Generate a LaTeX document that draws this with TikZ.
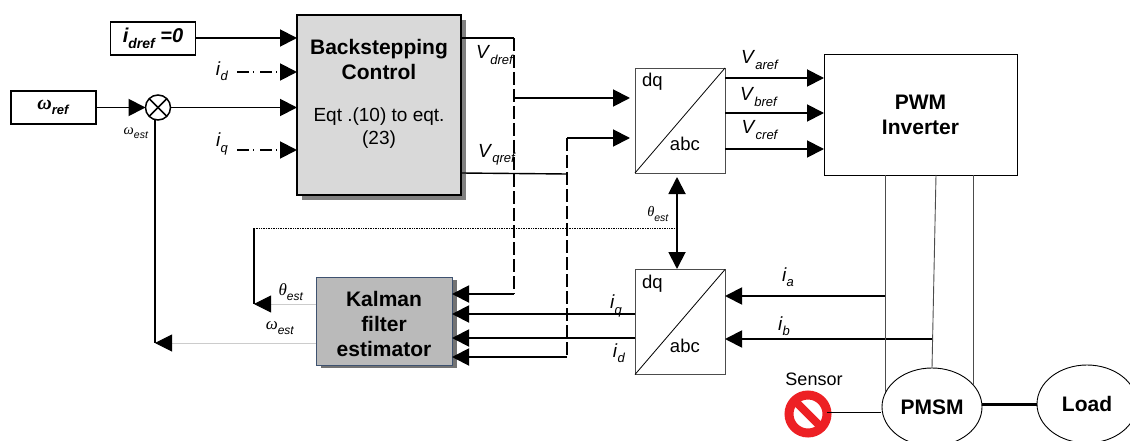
\documentclass[tikz,border=0pt]{standalone}
\usepackage{fontspec}
\setmainfont{Liberation Sans}
\newfontfamily\grkfont{Liberation Serif}
\usetikzlibrary{arrows.meta, shadows}
\usetikzlibrary{shapes.geometric}
\newcommand{\subt}[2][13]{\raisebox{-0.28em}{\fontsize{#1}{#1}\selectfont\textit{#2}}}
\newcommand{\sigl}[2]{\fontsize{19}{19}\selectfont\textit{#1}\subt{#2}}
\newcommand{\grkl}[2]{\fontsize{17}{17}\selectfont{\grkfont\textit{#1}}\subt[12]{#2}}
\newcommand{\grks}[2]{\fontsize{14.5}{14.5}\selectfont{\grkfont\textit{#1}}\subt[10.5]{#2}}
\definecolor{stopred}{RGB}{237,32,36}
\definecolor{slate}{RGB}{62,82,112}
\tikzstyle{refbox} = [rectangle, minimum width=85pt, minimum height=33pt, inner sep=0pt, outer sep=0pt, text centered, draw=black, line width=1.3pt, fill=white]
\tikzstyle{control} = [rectangle, minimum width=164pt, minimum height=180pt, inner sep=0pt, outer sep=0pt, align=center, draw=black, line width=1.6pt, fill=black!15, copy shadow={shadow xshift=5pt, shadow yshift=-5pt, fill=black!50, draw=none}]
\tikzstyle{kalman} = [rectangle, minimum width=136pt, minimum height=88pt, inner sep=0pt, outer sep=0pt, align=center, draw=slate, line width=1pt, fill=black!27, copy shadow={shadow xshift=5pt, shadow yshift=-3pt, fill=black!55, draw=none}]
\tikzstyle{transform} = [rectangle, minimum width=90pt, minimum height=105pt, inner sep=0pt, outer sep=0pt, draw=black!70, line width=0.9pt, fill=white]
\tikzstyle{inverter} = [rectangle, minimum width=193pt, minimum height=121pt, inner sep=0pt, outer sep=0pt, align=center, draw=black, line width=0.9pt, fill=white]
\tikzstyle{machine} = [ellipse, minimum width=100pt, minimum height=78pt, inner sep=0pt, outer sep=0pt, draw=black, line width=0.9pt, fill=white]
\tikzstyle{arrow} = [line width=1.9pt, -{Triangle[length=17pt,width=17pt]}]
\tikzstyle{dasharrow} = [arrow, dash pattern=on 12pt off 4pt on 1pt off 6pt]
\tikzstyle{thinarrow} = [black!20, line width=1pt, -{Triangle[length=17pt,width=17pt,black]}]
\tikzstyle{bigtext} = [font=\fontsize{21}{25}\selectfont\bfseries]
\tikzstyle{plaintext} = [font=\fontsize{19}{23}\selectfont]
\tikzstyle{signal} = [inner sep=0pt]
\begin{document}
\begin{tikzpicture}[x=1pt, y=-1pt]
        \useasboundingbox (0,0) rectangle (1130,441);

        % Nodes
        \node (idref) [refbox] at (153,38.5) {\fontsize{20}{20}\selectfont\bfseries\itshape i\subt[14]{dref} =0};
        \node (wref) [refbox] at (53.5,107.5) {\fontsize{20}{20}\selectfont\bfseries{\grkfont\itshape ω}\subt{ref}};
        \node (sum) [circle, minimum size=25pt, inner sep=0pt, outer sep=0pt, draw=black, line width=1.5pt] at (158,107.5) {};
        \node (backstep) [control] at (379,105) {};
        \node (title) [bigtext, align=center] at (379,59) {Backstepping\\Control};
        \node (eqt) [plaintext, align=center] at (379,128) {Eqt .(10) to eqt.\\(23)};
        \node (kalman) [kalman] at (384,321) {};
        \node (kalmantxt) [bigtext, align=center] at (384,324) {Kalman\\filter\\estimator};
        \node (dqup) [transform] at (680,120.5) {};
        \node (dqlow) [transform] at (680,322) {};
        \node (pwm) [inverter, bigtext] at (920.5,114.5) {PWM\\Inverter};
        \node (pmsm) [machine, bigtext] at (932,407) {PMSM};
        \node (load) [machine, bigtext] at (1087,404) {Load};
        \node (stop) [circle, minimum size=38pt, inner sep=0pt, outer sep=0pt, draw=stopred, line width=9pt] at (808,414) {};
        \node (sensor) [plaintext, font=\fontsize{18}{18}\selectfont] at (814,379) {Sensor};

        % Transform texts
        \foreach \blk in {dqup, dqlow} {
            \draw [line width=0.8pt] (\blk.south west) -- (\blk.north east);
            \node [anchor=north west, font=\fontsize{18.5}{18.5}\selectfont, inner sep=0pt] at ([shift={(7,5)}]\blk.north west) {dq};
            \node [anchor=south east, font=\fontsize{18.5}{18.5}\selectfont, inner sep=0pt] at ([shift={(-25,-22)}]\blk.south east) {abc};
        }
        \draw [line width=1.5pt] (sum.north west) -- (sum.south east);
        \draw [line width=1.5pt] (sum.north east) -- (sum.south west);
        \draw [stopred, line width=8pt] (stop.north west) -- (stop.south east);

        % Junctions
        \coordinate (vdtop) at (514,38);
        \coordinate (vdmid) at (514,98);
        \coordinate (vdlow) at (514,294);
        \coordinate (vqmid) at (567,174);
        \coordinate (vqtop) at (567,138);
        \coordinate (vqlow) at (567,357);
        \coordinate (wdown) at (155,343);
        \coordinate (thtop) at (254,228);
        \coordinate (thlow) at (254,304);
        \coordinate (idin) at (237,72);
        \coordinate (iqin) at (237,150);
        \coordinate (iatap) at (885,296);
        \coordinate (ibtap) at (932.5,339);
        \coordinate (sensetap) at (881,412);

        % Arrows
        \draw [arrow] (idref.east |- 0,38) -- (backstep.west |- 0,38);
        \draw [dasharrow] (idin) -- (backstep.west |- idin);
        \draw [dasharrow] (iqin) -- (backstep.west |- iqin);
        \draw [arrow] (wref.east) -- (sum.west);
        \draw [arrow] (sum.east) -- (backstep.west |- sum);
        \draw [line width=1.4pt] (sum.south -| wdown) -- (wdown);
        \draw [line width=1.4pt] (backstep.east |- vdtop) -- (vdtop);
        \draw [line width=1.4pt] (backstep.east |- 0,173) -- (vqmid);
        \draw [line width=1.5pt, dash pattern=on 13pt off 4pt] (vdtop) -- (vdlow);
        \draw [line width=1.5pt, dash pattern=on 13pt off 4pt] (vqtop) -- (vqlow);
        \draw [arrow] (vdmid) -- (630,98);
        \draw [arrow] (vqtop) -- (630,138);
        \draw [arrow] (vdlow) -- (kalman.east |- vdlow);
        \draw [arrow] (vqlow) -- (kalman.east |- vqlow);
        \draw [arrow] (dqlow.west |- 0,314) -- (kalman.east |- 0,314);
        \draw [arrow] (dqlow.west |- 0,338) -- (kalman.east |- 0,338);
        \draw [arrow] (dqup.east |- 0,78) -- (pwm.west |- 0,78);
        \draw [arrow] (dqup.east |- 0,113) -- (pwm.west |- 0,113);
        \draw [arrow] (dqup.east |- 0,149) -- (pwm.west |- 0,149);
        \draw [line width=1.9pt, {Triangle[length=17pt,width=17pt]}-{Triangle[length=17pt,width=17pt]}] (677,177) -- (677,269);
        \draw [black, line width=0.7pt, densely dotted] (thtop) -- (677,228);
        \draw [line width=1.4pt] (thtop) -- (thlow);
        \draw [thinarrow] (kalman.west |- thlow) -- (thlow);
        \draw [thinarrow] (kalman.west |- wdown) -- (wdown);
        \draw [arrow] (iatap) -- (dqlow.east |- iatap);
        \draw [arrow] (ibtap) -- (dqlow.east |- ibtap);
        \draw [black!70, line width=0.9pt] (885,175) -- (885,392);
        \draw [black!70, line width=0.9pt] (936,175) -- (pmsm.north);
        \draw [black!70, line width=0.9pt] (973,175) -- (973,385);
        \draw [line width=3pt] (pmsm.east |- load) -- (load.west);
        \draw [line width=0.8pt] (stop.east |- sensetap) -- (sensetap);

        % Labels
        \node [signal] at (222,71) {\sigl{i}{d}};
        \node [signal] at (222,144) {\sigl{i}{q}};
        \node [signal] at (136,133) {\grks{ω}{est}};
        \node [signal] at (495,55) {\sigl{V}{dref}};
        \node [signal] at (497,155) {\sigl{V}{qref}};
        \node [signal] at (760,60) {\sigl{V}{aref}};
        \node [signal] at (759,97) {\sigl{V}{bref}};
        \node [signal] at (760,130) {\sigl{V}{cref}};
        \node [signal] at (658,214) {\grks{θ}{est}};
        \node [signal] at (291,292) {\grkl{θ}{est}};
        \node [signal] at (280,328) {\grkl{ω}{est}};
        \node [signal] at (616,306) {\sigl{i}{q}};
        \node [signal] at (619,353) {\sigl{i}{d}};
        \node [signal] at (788,277) {\sigl{i}{a}};
        \node [signal] at (784,326) {\sigl{i}{b}};

    \end{tikzpicture}
\end{document}
